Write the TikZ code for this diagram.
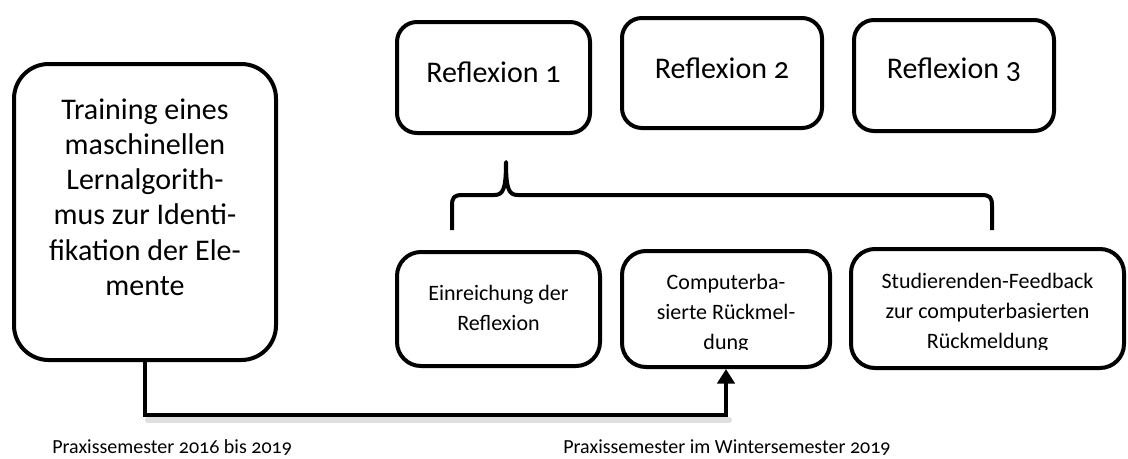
\documentclass[tikz,border=0pt]{standalone}
\usepackage{fontspec}
\setmainfont{Carlito}[Numbers=OldStyle]
\usetikzlibrary{arrows.meta}
\begin{document}
\begin{tikzpicture}[x=0.75pt,y=-0.75pt,
  frame/.style={draw=black,line width=3pt,rounded corners=#1,inner sep=0pt},
  frame/.default=16pt,
  bigtext/.style={font=\fontsize{22.5}{26.4}\selectfont,align=center,inner sep=0pt},
  midtext/.style={font=\fontsize{16.5}{22.5}\selectfont,align=center,inner sep=0pt},
  captext/.style={font=\fontsize{15}{18}\selectfont,anchor=base west,inner sep=0pt},
  bracepath/.style={line width=3pt,line join=round},
  flow/.style={line width=3.6pt,-{Triangle[length=11pt,width=13pt]}}]
\useasboundingbox (0,0) rectangle (1128,458);

% training box on the left
\node[frame=26pt,minimum width=196.5pt,minimum height=222pt] (train) at (145,212) {};
\node[bigtext] (traintxt) at (145,197)
  {Training eines\\maschinellen\\Lernalgorith-\\mus zur Identi-\\fikation der Ele-\\mente};

% the three reflection rounds
\node[frame=15pt,minimum width=144.75pt,minimum height=83.25pt] (r1) at (493.5,77.5) {};
\node[frame=15pt,minimum width=150pt,minimum height=82.5pt] (r2) at (722,73) {};
\node[frame=15pt,minimum width=150pt,minimum height=83.25pt] (r3) at (954,75.5) {};
\node[bigtext] (r1txt) at (493.5,72) {Reflexion 1};
\node[bigtext] (r2txt) at (722,68) {Reflexion 2};
\node[bigtext] (r3txt) at (954,70) {Reflexion 3};

% brace gathering the three steps
\draw[bracepath] (452,230) -- (452,206)
  .. controls (452,197) and (454,195) .. (463,195) -- (494,195)
  .. controls (503,195) and (506,190) .. (506,162)
  .. controls (506,190) and (509,195) .. (518,195) -- (981,195)
  .. controls (990,195) and (992,197) .. (992,206) -- (992,230);

% steps of one reflection round
\node[frame=18pt,minimum width=152.25pt,minimum height=85.5pt] (submit) at (498.5,309) {};
\node[frame=18pt,minimum width=156pt,minimum height=87pt] (cb) at (726,309) {};
\node[frame=18pt,minimum width=204.75pt,minimum height=89.25pt] (fb) at (987.5,308.5) {};
\node[midtext] (submittxt) at (498.5,308) {Einreichung der\\Reflexion};
\begin{scope}
  \clip (624,253) rectangle (828,349);
  \node[midtext] (cbtxt) at (726,314) {Computerba-\\sierte Rückmel-\\dung};
\end{scope}
\begin{scope}
  \clip (853,251) rectangle (1122,349);
  \node[midtext] (fbtxt) at (987.5,313) {Studierenden-Feedback\\zur computerbasierten\\Rückmeldung};
\end{scope}

% trained algorithm feeds the computer-based feedback
\coordinate (bend) at (145,415);
\draw[gray!25,line width=4.5pt,line cap=round] ([shift={(3,5)}]bend) -- ([shift={(3,5)}]bend -| cb.south);
\draw[flow] (train.south) -- (bend) -| (cb.south);

% periods
\node[captext] (p1) at (52,453) {Praxissemester 2016 bis 2019};
\node[captext] (p2) at (563,453) {Praxissemester im Wintersemester 2019};
\end{tikzpicture}
\end{document}
